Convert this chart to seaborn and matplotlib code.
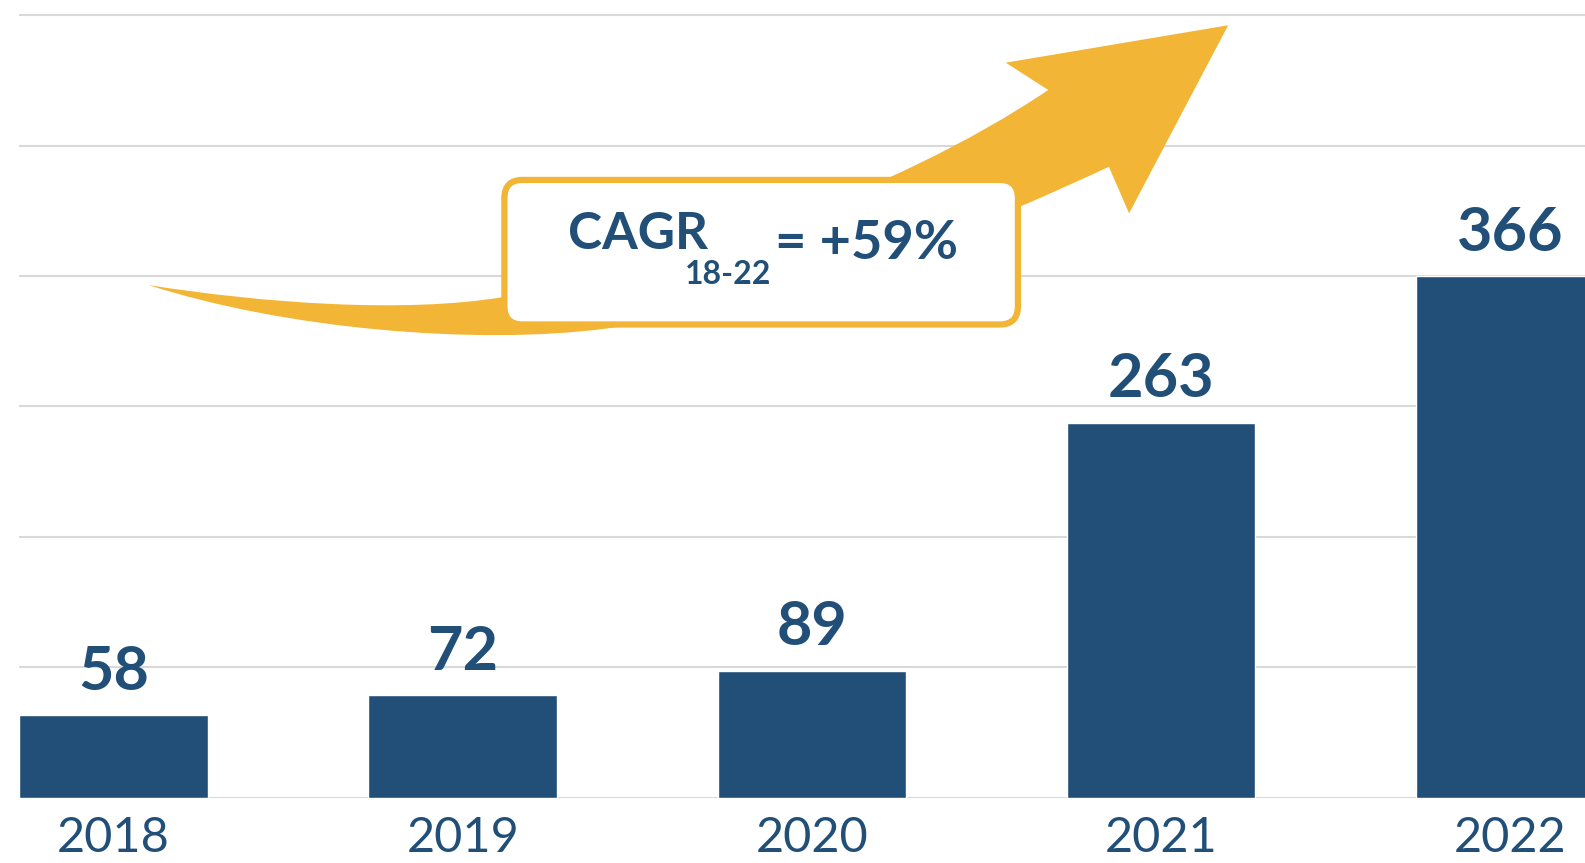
import matplotlib

matplotlib.use("Agg")
import matplotlib.pyplot as plt
import numpy as np
import seaborn as sns
from matplotlib.patches import FancyBboxPatch, PathPatch
from matplotlib.path import Path
from matplotlib.transforms import Affine2D

YEARS: list[str] = ["2018", "2019", "2020", "2021", "2022"]
VALUES: list[int] = [58, 72, 89, 263, 366]
CAGR_LABEL: str = "CAGR"
CAGR_PERIOD: str = "18-22"
CAGR_VALUE: str = "= +59%"

NAVY = "#214F78"
GOLD = "#F2B535"
GRID = "#D9D9D9"

W, H = 1585, 863
S = W / 1568  # layout sketched on the 1568-wide preview

sns.set_theme(style="white")
plt.rcParams["font.family"] = ["Lato", "DejaVu Sans"]

fig = plt.figure(figsize=(W / 100, H / 100), dpi=100)
ax = fig.add_axes([19.2 / W, 65.5 / H, 1585.4 / W, 797.5 / H])

sns.barplot(x=YEARS, y=VALUES, color=NAVY, saturation=1, width=0.54, ax=ax, zorder=2)
ax.set_xlim(-0.27, 4.27)
ax.set_ylim(0, 559.6)
ax.set_yticks(np.arange(0, 550, 91.5))
ax.yaxis.grid(True, color=GRID, linewidth=1.5)
ax.set_axisbelow(True)
ax.tick_params(axis="y", left=False, labelleft=False)
ax.tick_params(axis="x", length=0, pad=13, labelsize=35, labelcolor=NAVY)
ax.set_xlabel("")
ax.set_ylabel("")
sns.despine(ax=ax, left=True, bottom=True, top=True, right=True)

ax.bar_label(ax.containers[0], labels=[str(v) for v in VALUES], padding=11,
             fontsize=44, fontweight="bold", color=NAVY)

# preview pixel coords (y down) -> display pixels
px = Affine2D().scale(S, -S).translate(0, H)

verts = [
    (147, 282),
    (260, 300), (400, 310), (497, 294),
    (650, 270), (880, 195), (1037, 89),
    (995, 62),
    (1215, 25),
    (1117, 211),
    (1097, 165),
    (1000, 210), (800, 300), (600, 325),
    (470, 342), (280, 325), (147, 282),
]
codes = [Path.MOVETO,
         Path.CURVE4, Path.CURVE4, Path.CURVE4,
         Path.CURVE4, Path.CURVE4, Path.CURVE4,
         Path.LINETO, Path.LINETO, Path.LINETO, Path.LINETO,
         Path.CURVE4, Path.CURVE4, Path.CURVE4,
         Path.CURVE4, Path.CURVE4, Path.CURVE4]
fig.add_artist(PathPatch(Path(verts, codes), facecolor=GOLD, edgecolor="none", transform=px, zorder=3))

box = FancyBboxPatch((499, 178), 508, 143, boxstyle="round,pad=0,rounding_size=18",
                     facecolor="white", edgecolor=GOLD, linewidth=4.5, transform=px, zorder=4)
fig.add_artist(box)

fig.text(631, 232, CAGR_LABEL, transform=px, ha="center", va="center",
         fontsize=37, fontweight="bold", color=NAVY, zorder=5)
fig.text(720, 272, CAGR_PERIOD, transform=px, ha="center", va="center",
         fontsize=23, fontweight="bold", color=NAVY, zorder=5)
fig.text(767, 241, CAGR_VALUE, transform=px, ha="left", va="center",
         fontsize=39, fontweight="bold", color=NAVY, zorder=5)

fig.savefig("out.png", dpi=100)
